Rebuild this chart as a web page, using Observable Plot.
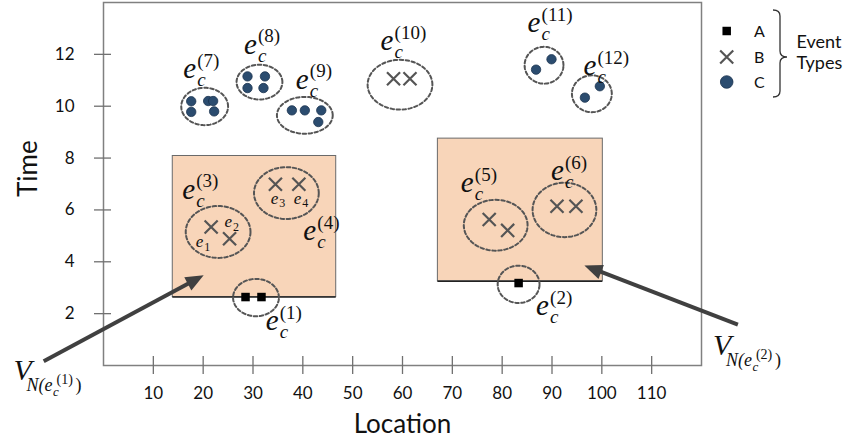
<!DOCTYPE html>
<html><head><meta charset="utf-8">
<script src="https://cdn.jsdelivr.net/npm/d3@7"></script>
<script src="https://cdn.jsdelivr.net/npm/@observablehq/plot@0.6"></script>
<style>
body{margin:0;background:#fff;}
#chart{position:relative;width:852px;height:440px;}
#legend{position:absolute;left:700px;top:0;}
</style></head><body><div id="chart"></div>
<script>
// ---- data ----
const xTicks = [10,20,30,40,50,60,70,80,90,100,110];
const yTicks = [2,4,6,8,10,12];
const eventTypes = ["A","B","C"];

// Type A events (squares)
const aX = [28.5, 31.7, 83.3];
const aY = [2.64, 2.64, 3.18];
// Type B events (crosses)
const bX = [21.6, 25.3, 34.5, 39.2, 77.4, 81.1, 91.0, 94.8, 58.2, 61.5];
const bY = [5.34, 4.89, 6.99, 6.99, 5.63, 5.21, 6.14, 6.14, 11.06, 11.06];
// Type C events (dots)
const cX = [17.6, 17.6, 21.0, 22.0, 22.2, 28.9, 32.4, 28.9, 32.1, 37.8, 40.4, 43.7, 43.1, 86.8, 89.9, 96.6, 99.6];
const cY = [10.19, 9.78, 10.2, 10.2, 9.80, 11.15, 11.15, 10.70, 10.70, 9.84, 9.84, 9.84, 9.39, 11.41, 11.81, 10.33, 10.77];

// clusters e_c^(k): center, radii, label anchor
const clusterIds = ["1","2","3","4","5","6","7","8","9","10","11","12"];
const clusterCX = [30.6, 83.3, 23.0, 36.7, 78.7, 92.5, 20.3, 31.3, 40.4, 59.5, 88.4, 98.0];
const clusterCY = [2.62, 3.13, 5.15, 6.65, 5.41, 6.0, 9.99, 10.93, 9.65, 10.83, 11.58, 10.48];
const clusterRX = [4.6, 4.2, 6.5, 6.5, 6.4, 6.4, 4.7, 4.6, 5.6, 6.5, 3.9, 4.0];
const clusterRY = [0.72, 0.72, 1.0, 1.0, 0.98, 1.05, 0.72, 0.67, 0.71, 0.96, 0.71, 0.71];
const labelX = [32.55, 86.8, 15.8, 40.1, 71.7, 89.8, 16.0, 28.2, 38.6, 55.6, 85.1, 96.3];
const labelY = [1.36, 1.94, 6.44, 4.83, 6.69, 7.14, 11.08, 12.03, 10.68, 12.16, 12.86, 11.19];

// single event labels e_1..e_4
const elemIds = ["1","2","3","4"];
const elemX = [18.5, 24.3, 33.55, 38.2];
const elemY = [4.57, 5.34, 6.24, 6.24];

// neighbourhood regions V_N(e_c^(1)), V_N(e_c^(2))
const regionX1 = [13.9, 67.1];
const regionX2 = [46.7, 100.2];
const regionY1 = [2.64, 3.25];
const regionY2 = [8.08, 8.75];

// arrows and V labels
const arrowX1 = [-12.0, 127.3];
const arrowY1 = [0.16, 1.58];
const arrowX2 = [20.1, 96.5];
const arrowY2 = [3.48, 3.86];
const vIds = ["1","2"];
const vX = [-18.05, 122.3];
const vY = [-0.57, 0.39];

// ---- build ----
const W = 852, H = 440, mL = 103, mR = 151, mT = 2, mB = 75;
const plotW = W - mL - mR, plotH = H - mT - mB;
const xDomain = [0, 120], yDomain = [0, 14];
const kx = plotW / (xDomain[1] - xDomain[0]), ky = plotH / (yDomain[1] - yDomain[0]);

const ptsA = aX.map((x, i) => ({x, y: aY[i]}));
const ptsB = bX.map((x, i) => ({x, y: bY[i]}));
const ptsC = cX.map((x, i) => ({x, y: cY[i]}));
const clusters = clusterIds.map((id, i) => ({id, cx: clusterCX[i], cy: clusterCY[i], lx: labelX[i], ly: labelY[i], sup: `(${id})`}));
const ell = [];
clusters.forEach((c, i) => {
  for (let k = 0; k <= 80; k++) {
    const t = 2 * Math.PI * k / 80;
    ell.push({id: c.id, x: c.cx + clusterRX[i] * Math.cos(t), y: c.cy + clusterRY[i] * Math.sin(t)});
  }
});
const elems = elemIds.map((id, i) => ({id, x: elemX[i], y: elemY[i]}));
const regions = regionX1.map((x1, i) => ({x1, x2: regionX2[i], y1: regionY1[i], y2: regionY2[i]}));
const arrows = arrowX1.map((x1, i) => {
  const x2 = arrowX2[i], y1 = arrowY1[i], y2 = arrowY2[i];
  const dxp = (x2 - x1) * kx, dyp = -(y2 - y1) * ky, len = Math.hypot(dxp, dyp);
  const ux = dxp / len, uy = dyp / len;
  return {x1, y1, x2, y2, xe: x2 - ux * 11 / kx, ye: y2 + uy * 11 / ky, rot: Math.atan2(dyp, dxp) * 180 / Math.PI + 90};
});
const vlabels = vIds.map((id, i) => ({id, x: vX[i], y: vY[i], sup: `(${id})`}));

// arrowhead with tip at the origin, pointing up
const headSymbol = {draw(ctx) { ctx.moveTo(0, 0); ctx.lineTo(-7.5, 18); ctx.lineTo(7.5, 18); ctx.closePath(); }};

const serif = "Liberation Serif";
const T = (data, opts) => Plot.text(data, {fontFamily: serif, lineAnchor: "bottom", textAnchor: "start", fill: "#111", ...opts});

const chart = Plot.plot({
  width: W, height: H,
  marginLeft: mL, marginRight: mR, marginTop: mT, marginBottom: mB,
  x: {domain: xDomain},
  y: {domain: yDomain},
  style: {fontFamily: "Lato", fontSize: "17px", background: "#fff", color: "#111", overflow: "visible"},
  marks: [
    Plot.rect(regions, {x1: "x1", x2: "x2", y1: "y1", y2: "y2", fill: "#f8d5b9", stroke: "#6a6a6a", strokeWidth: 1}),
    Plot.ruleY(regions, {y: "y1", x1: "x1", x2: "x2", stroke: "#222", strokeWidth: 1.4}),
    Plot.frame({stroke: "#808080", strokeWidth: 1.5}),
    Plot.tickX(xTicks, {x: d => d, insetTop: plotH - 9, insetBottom: -9, stroke: "#707070", strokeWidth: 1.3}),
    Plot.tickY(yTicks, {y: d => d, insetLeft: -9, insetRight: plotW - 8, stroke: "#707070", strokeWidth: 1.3}),
    Plot.axisX({ticks: xTicks, tickSize: 0, tickPadding: 21, label: null, fontSize: 17}),
    Plot.axisY({ticks: yTicks, tickSize: 0, tickPadding: 29, label: null, fontSize: 17}),
    Plot.text(["Location"], {text: d => d, frameAnchor: "bottom", lineAnchor: "bottom", dy: 67, fontSize: 26}),
    Plot.text(["Time"], {text: d => d, frameAnchor: "left", rotate: -90, dx: -75, dy: 13, fontSize: 26}),
    Plot.line(ell, {x: "x", y: "y", z: "id", stroke: "#555", strokeWidth: 2, strokeDasharray: "3.5,2.5"}),
    Plot.dot(ptsA, {x: "x", y: "y", symbol: "square", r: 4.8, fill: "#000"}),
    Plot.dot(ptsB, {x: "x", y: "y", symbol: "times", r: 6, stroke: "#555", strokeWidth: 2.2}),
    Plot.dot(ptsC, {x: "x", y: "y", r: 4.7, fill: "#2b4c6f", stroke: "#1d3550", strokeWidth: 0.8}),
    // cluster labels e_c^(k)
    T(clusters, {x: "lx", y: "ly", text: () => "e", fontStyle: "italic", fontSize: 29}),
    T(clusters, {x: "lx", y: "ly", text: () => "c", fontStyle: "italic", fontSize: 19, dx: 14, dy: 8}),
    T(clusters, {x: "lx", y: "ly", text: "sup", fontSize: 19, dx: 14, dy: -11.5}),
    // element labels e_i
    T(elems, {x: "x", y: "y", text: () => "e", fontStyle: "italic", fontSize: 17}),
    T(elems, {x: "x", y: "y", text: "id", fontSize: 12, dx: 8.5, dy: 3.5}),
    // V labels
    T(vlabels, {x: "x", y: "y", text: () => "V", fontStyle: "italic", fontSize: 30}),
    T(vlabels, {x: "x", y: "y", text: () => "N(", fontStyle: "italic", fontSize: 18, dx: 13, dy: 11}),
    T(vlabels, {x: "x", y: "y", text: () => "e", fontStyle: "italic", fontSize: 18, dx: 31, dy: 11}),
    T(vlabels, {x: "x", y: "y", text: () => "c", fontStyle: "italic", fontSize: 13, dx: 39.5, dy: 16}),
    T(vlabels, {x: "x", y: "y", text: "sup", fontSize: 14, dx: 43, dy: 4}),
    T(vlabels, {x: "x", y: "y", text: () => ")", fontSize: 18, dx: 62, dy: 11}),
    // arrows: shaft + filled head
    Plot.link(arrows, {x1: "x1", y1: "y1", x2: "xe", y2: "ye", stroke: "#404040", strokeWidth: 4}),
    Plot.dot(arrows, {x: "x2", y: "y2", rotate: "rot", symbol: headSymbol, fill: "#404040", stroke: "none"})
  ]
});
document.getElementById("chart").appendChild(chart);

// legend (event types)
const leg = d3.select("#chart").append("svg").attr("id", "legend").attr("width", 152).attr("height", 110)
  .style("font-family", "Lato").style("font-size", "16px");
const legY = [31, 57, 82];
const shapes = [
  g => g.append("path").attr("d", d3.symbol(d3.symbolSquare, 72)()).attr("fill", "#000"),
  g => g.append("path").attr("d", d3.symbol(d3.symbolTimes, 113)()).attr("fill", "none").attr("stroke", "#555").attr("stroke-width", 2.2),
  g => g.append("circle").attr("r", 6.3).attr("fill", "#2b4c6f").attr("stroke", "#1d3550").attr("stroke-width", 0.8)
];
eventTypes.forEach((t, i) => {
  const g = leg.append("g").attr("transform", `translate(26.7,${legY[i]})`);
  shapes[i](g);
  leg.append("text").attr("x", 54).attr("y", legY[i]).attr("dy", "0.35em").attr("fill", "#111").text(t);
});
const bx = 73, bw = 14, by0 = 10, by1 = 97, bm = 57, br = 6;
leg.append("path")
  .attr("d", `M${bx},${by0} Q${bx + bw / 2},${by0} ${bx + bw / 2},${by0 + br} L${bx + bw / 2},${bm - br} Q${bx + bw / 2},${bm} ${bx + bw},${bm} Q${bx + bw / 2},${bm} ${bx + bw / 2},${bm + br} L${bx + bw / 2},${by1 - br} Q${bx + bw / 2},${by1} ${bx},${by1}`)
  .attr("fill", "none").attr("stroke", "#333").attr("stroke-width", 1.3);
leg.append("text").attr("x", 96.5).attr("y", 48).attr("font-size", 18).attr("fill", "#111").text("Event");
leg.append("text").attr("x", 96.5).attr("y", 69).attr("font-size", 18).attr("fill", "#111").text("Types");
</script></body></html>
